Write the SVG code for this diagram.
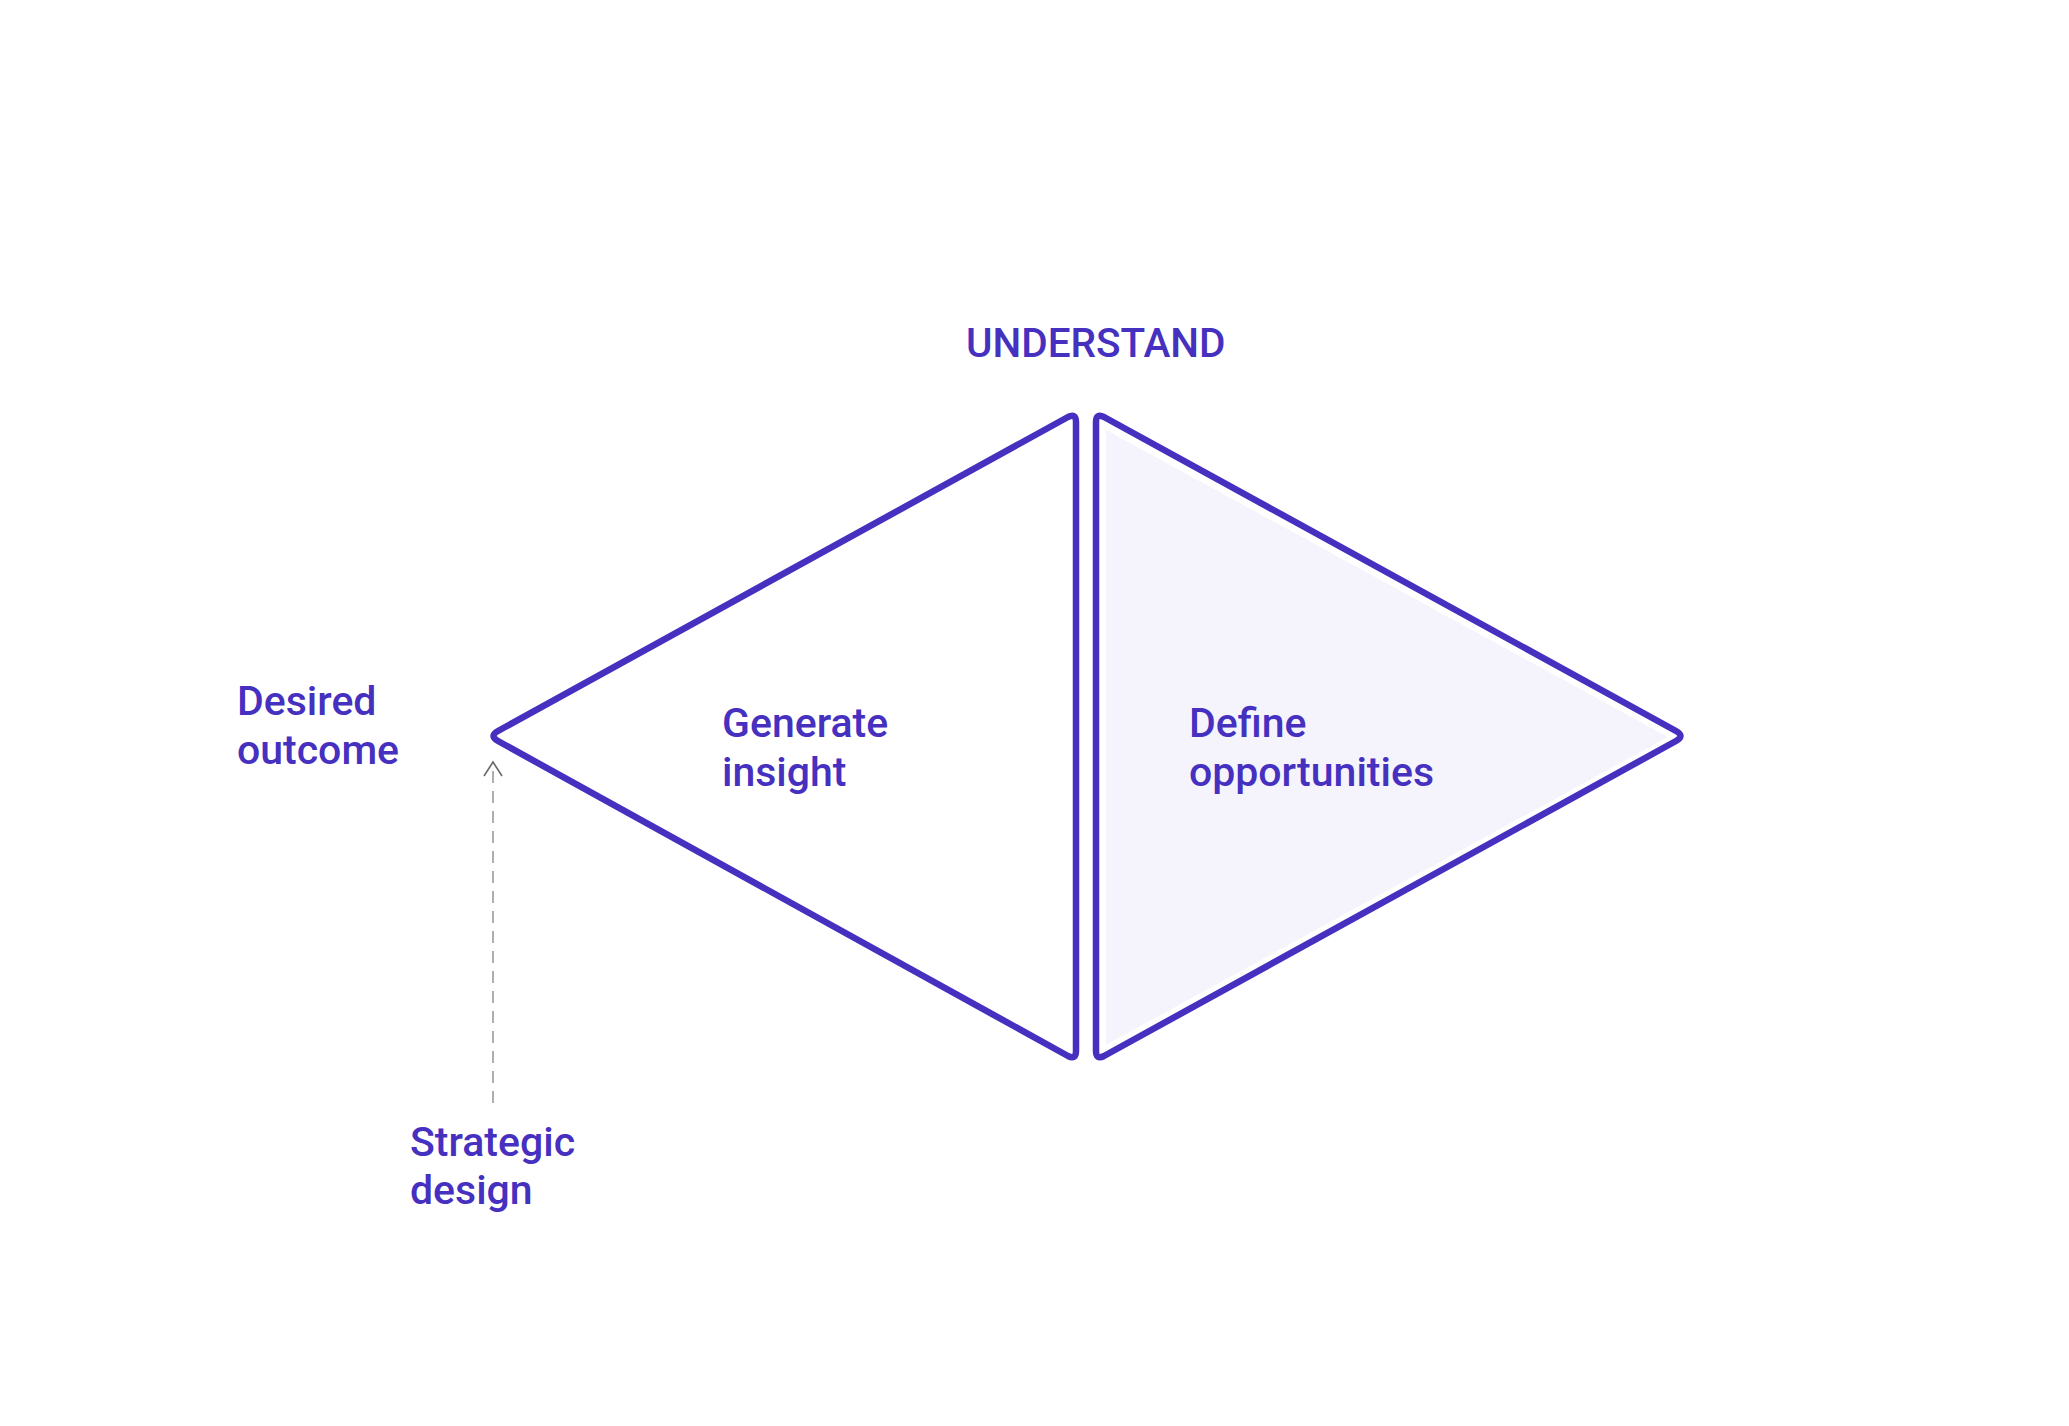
<svg xmlns="http://www.w3.org/2000/svg" width="2069" height="1426" viewBox="0 0 2069 1426">
<style>
.lbl{font-family:Roboto,"Liberation Sans",sans-serif;font-weight:500;font-size:41px;fill:#4630C0}
.tri{fill:none;stroke:#4630C0;stroke-width:6.5;stroke-linejoin:round}
.dash{fill:none;stroke:#9a9a9a;stroke-width:1.6;stroke-dasharray:12 8}
.head{fill:none;stroke:#6a6a6a;stroke-width:1.6}
</style>
<rect width="2069" height="1426" fill="#ffffff"/>
<g id="understand"><text class="lbl" x="966" y="357" style="font-size:40.5px">UNDERSTAND</text></g>
<g id="generate-insight">
<path class="tri" d="M1068,417 Q1076,413 1076,422 L1076,1051 Q1076,1060 1068,1056 L498,741 Q489,736 498,731 Z"/>
<text class="lbl" x="722" y="737">Generate</text>
<text class="lbl" x="722" y="786">insight</text>
</g>
<g id="define-opportunities">
<path d="M1106,430 L1106,1045 L1668,737 Z" fill="#F5F4FC"/>
<path class="tri" d="M1104,417 Q1096,413 1096,422 L1096,1051 Q1096,1060 1104,1056 L1676,741 Q1685,736 1676,731 Z"/>
<text class="lbl" x="1189" y="737">Define</text>
<text class="lbl" x="1189" y="786">opportunities</text>
</g>
<g id="desired-outcome">
<text class="lbl" x="237" y="715">Desired</text>
<text class="lbl" x="237" y="764">outcome</text>
</g>
<g id="strategic-design">
<text class="lbl" x="410" y="1156">Strategic</text>
<text class="lbl" x="410" y="1204">design</text>
</g>
<g id="connectors">
<line class="dash" x1="493" y1="1103" x2="493" y2="764"/>
<polyline class="head" points="484,776 493,762 502,776"/>
</g>
</svg>
